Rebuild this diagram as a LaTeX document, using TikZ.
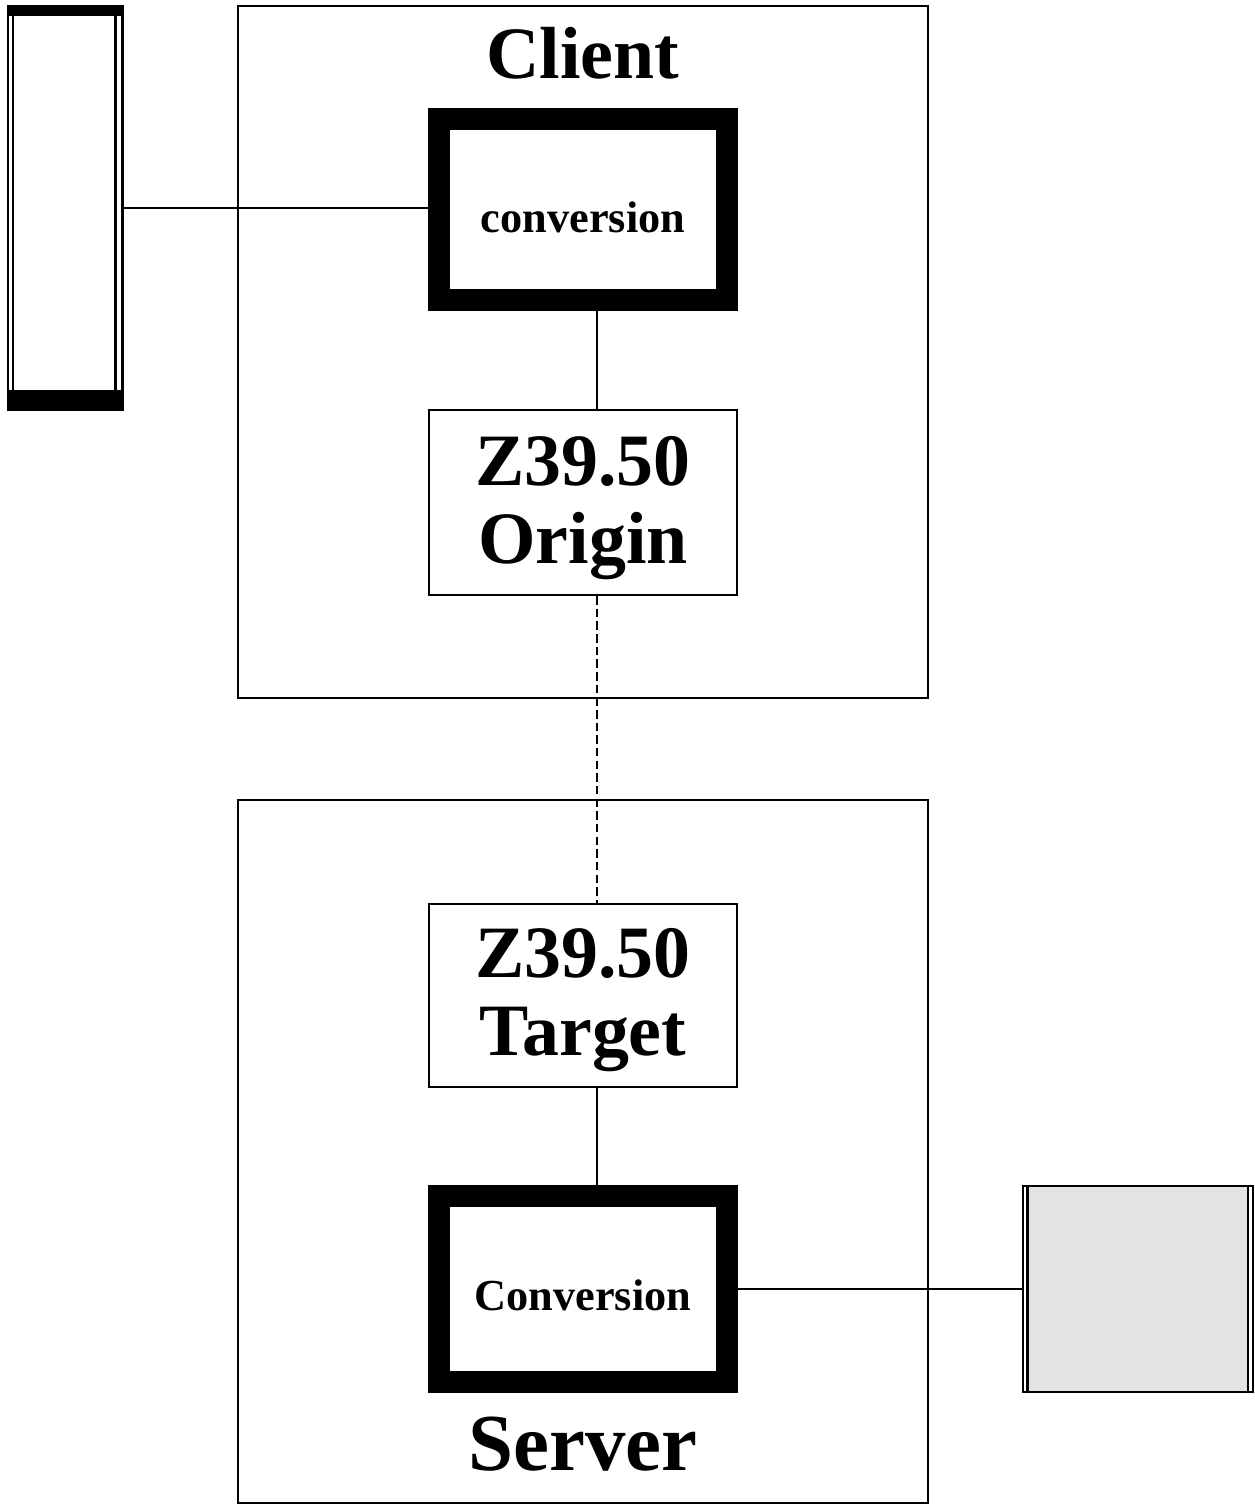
\documentclass[tikz,border=0pt]{standalone}
\usepackage{fontspec}
\setmainfont{Liberation Serif}
\usetikzlibrary{positioning}
\begin{document}
\begin{tikzpicture}[
  x=0.01cm,y=-0.01cm,
  frame/.style={draw,line width=0.6pt,inner sep=0pt,minimum width=6.90cm},
  module/.style={draw,line width=0.6pt,inner sep=0pt,minimum width=3.08cm},
  modtext/.style={inner sep=0pt,align=center,font=\fontsize{21}{22.2}\selectfont\bfseries},
  engine/.style={draw,line width=6.26pt,inner sep=0pt,minimum width=2.88cm},
  title/.style={anchor=base,inner sep=0pt,font=\fontsize{21}{24}\selectfont\bfseries},
  small/.style={anchor=base,inner sep=0pt,font=\fontsize{12.6}{14}\selectfont\bfseries},
  link/.style={line width=0.6pt}
]
\useasboundingbox (0,0) rectangle (1255,1505);
\coordinate (axis) at (597,0);

\node[frame,minimum height=6.92cm] (client) at (583,352) {};
\node[frame,minimum height=7.03cm] (server) at (583,1151.5) {};
\node[title] (clientname) at (583,78) {Client};
\node[title,font=\fontsize{23}{26}\selectfont\bfseries] (servername) at (583,1470) {Server};

\node[engine,minimum height=1.81cm] (convA) at (583,209.5) {};
\node[small] (convAtext) at (583,232) {conversion};
\node[module,minimum height=1.85cm] (origin) at (583,502.5) {};
\node[modtext] (origintext) at ([yshift=-0.06cm]origin.center) {Z39.50\\Origin};
\node[module,minimum height=1.83cm] (target) at (583,995.5) {};
\node[modtext] (targettext) at ([yshift=-0.045cm]target.center) {Z39.50\\Target};
\node[engine,minimum height=1.86cm] (convB) at (583,1289) {};
\node[small] (convBtext) at (583,1310) {Conversion};

% left store
\node[inner sep=0pt,outer sep=0pt,minimum width=1.17cm,minimum height=4.06cm] (store) at (65.5,208) {};
\fill (store.north west) rectangle ([yshift=-0.11cm]store.north east);
\fill (store.south west) rectangle ([yshift=0.21cm]store.south east);
\draw[line width=0.7pt] ([xshift=0.012cm]store.north west) -- ([xshift=0.012cm]store.south west);
\draw[link] ([xshift=0.06cm]store.north west) -- ([xshift=0.06cm]store.south west);
\draw[link] ([xshift=-0.085cm]store.north east) -- ([xshift=-0.085cm]store.south east);
\draw[line width=0.8pt] ([xshift=-0.015cm]store.north east) -- ([xshift=-0.015cm]store.south east);

% right store
\node[draw,line width=0.7pt,inner sep=0pt,minimum width=2.295cm,minimum height=2.06cm] (archive) at (1138,1289) {};
\fill[black!11] ([xshift=0.07cm,yshift=-0.025cm]archive.north west) rectangle ([xshift=-0.07cm,yshift=0.025cm]archive.south east);
\draw[line width=0.7pt] ([xshift=0.055cm]archive.north west) -- ([xshift=0.055cm]archive.south west);
\draw[line width=0.7pt] ([xshift=-0.06cm]archive.north east) -- ([xshift=-0.06cm]archive.south east);

\draw[link] (store.east) -- (store.east -| convA.west);
\draw[link] (convA.south -| axis) -- (origin.north -| axis);
\draw[link,dash pattern=on 2.4pt off 1.2pt] (origin.south -| axis) -- (target.north -| axis);
\draw[link] (target.south -| axis) -- (convB.north -| axis);
\draw[link] (convB.east) -- (archive.west);
\end{tikzpicture}
\end{document}
